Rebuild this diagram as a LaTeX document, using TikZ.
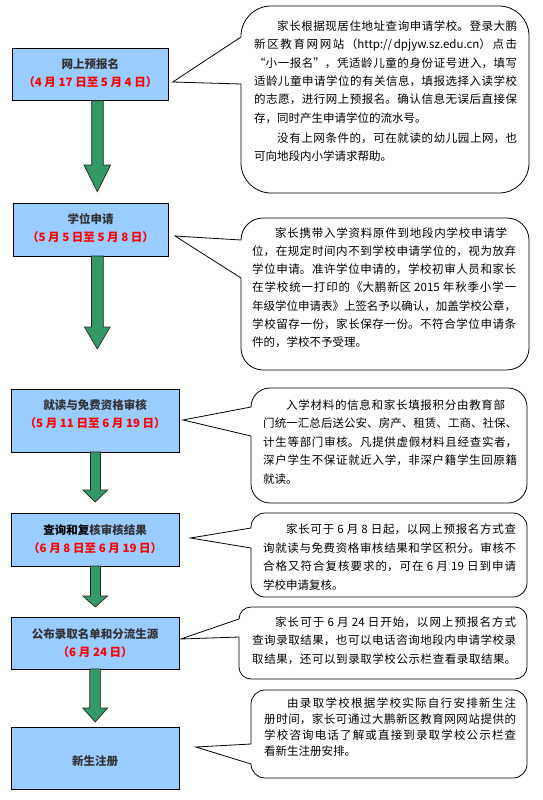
\documentclass[tikz,border=0pt]{standalone}
\usepackage{fontspec}
\setmainfont{Noto Sans CJK SC}
\XeTeXlinebreaklocale "zh"
\XeTeXlinebreakskip=0pt plus 2pt minus 0.5pt
\tolerance=10000
\hbadness=10000
\definecolor{boxblue}{HTML}{99CCFF}
\definecolor{arrowgreen}{HTML}{339966}
\definecolor{titlegray}{HTML}{333333}
\newcommand\bubblepath[9]{%
  \draw[bubble] (#1,#9) -- (#1,#4-#5) arc[start angle=180,end angle=90,radius=#5]
    -- (#3-#5,#4) arc[start angle=90,end angle=0,radius=#5]
    -- (#3,#2+#5) arc[start angle=0,end angle=-90,radius=#5]
    -- (#1+#5,#2) arc[start angle=270,end angle=180,radius=#5]
    -- (#1,#8) -- (#6,#7) -- cycle;}
\tikzset{
  stagebox/.style={draw=black, line width=0.9pt, fill=boxblue, inner sep=0pt},
  stagetitle/.style={anchor=base, inner sep=0pt, text=titlegray, font=\bfseries\fontsize{11.5}{14}\selectfont},
  stagedate/.style={anchor=base, inner sep=0pt, text=red, font=\bfseries\fontsize{11.5}{14}\selectfont},
  garrow/.style={draw=black!85, line width=0.7pt, fill=arrowgreen, line join=miter},
  bubble/.style={draw=black, line width=0.8pt, fill=white, line join=miter},
  bubbletext/.style={anchor=base west, inner sep=0pt, text=black},
}
\begin{document}
\begin{tikzpicture}[x=1pt,y=-1pt]
\useasboundingbox (0,0) rectangle (542,800);

% stage boxes
\node[stagebox, minimum width=155.3pt, minimum height=52.7pt] (b1) at (90.35,74.35) {};
\node[stagebox, minimum width=155pt, minimum height=53pt] (b2) at (90.5,229.5) {};
\node[stagebox, minimum width=167.6pt, minimum height=63pt] (b3) at (95.2,420.5) {};
\node[stagebox, minimum width=167.6pt, minimum height=53pt] (b4) at (95.2,539.5) {};
\node[stagebox, minimum width=167.6pt, minimum height=52pt] (b5) at (95.2,643) {};
\node[stagebox, minimum width=167.6pt, minimum height=62pt] (b6) at (95.2,758) {};

\node[stagetitle] (t1) at (90.35,68.3) {网上预报名};
\node[stagedate]  (d1) at (90.35,86.6) {（4 月 17 日至 5 月 4 日）};
\node[stagetitle] (t2) at (90.5,223.3) {学位申请};
\node[stagedate]  (d2) at (90.5,241.3) {（5 月 5 日至 5 月 8 日）};
\node[stagetitle] (t3) at (95.2,409.3) {就读与免费资格审核};
\node[stagedate]  (d3) at (95.2,427.3) {（5 月 11 日至 6 月 19 日）};
\node[stagetitle] (t4) at (95.2,534.3) {{\color{black}查询和复}核审核结果};
\node[stagedate]  (d4) at (95.2,552.3) {（6 月 8 日至 6 月 19 日）};
\node[stagetitle] (t5) at (95.2,638.3) {公布录取名单和分流生源};
\node[stagedate]  (d5) at (95.2,656.3) {（6 月 24 日）};
\node[stagetitle] (t6) at (95.2,765.3) {新生注册};

% block arrows
\draw[garrow] (91.7,100.7) -- (91.7,165) -- (84,165) -- (97.3,191.7) -- (110.6,165) -- (103.3,165) -- (103.3,100.7) -- cycle;
\draw[garrow] (91.5,256) -- (91.5,327) -- (84.5,327) -- (97.3,349) -- (110.1,327) -- (103.3,327) -- (103.3,256) -- cycle;
\draw[garrow] (90.4,452) -- (90.4,490) -- (82.8,490) -- (95.2,502) -- (107.6,490) -- (100.4,490) -- (100.4,452) -- cycle;
\draw[garrow] (90.4,566) -- (90.4,596) -- (82.8,596) -- (95.2,607) -- (107.6,596) -- (100.4,596) -- (100.4,566) -- cycle;
\draw[garrow] (89.8,669) -- (89.8,708) -- (82.8,708) -- (95.2,722) -- (107.6,708) -- (100.6,708) -- (100.6,669) -- cycle;

% callouts
\bubblepath{241}{6}{529}{193}{30}{172.7}{82}{37}{84}
\bubblepath{241}{218}{529}{370}{22}{175}{236}{240}{278}
\bubblepath{251}{388}{527}{503}{19}{183}{420}{407}{436}
\bubblepath{251}{513}{527}{597}{14}{190.5}{538}{528}{548}
\bubblepath{239}{607}{527}{679}{12}{180.7}{639}{619}{637}
\bubblepath{251}{690}{527}{778}{14}{196}{747}{744}{764}

\node[bubbletext] (c1) at (254,30.4) {\parbox[t]{263pt}{\fontsize{11.5}{18.4}\selectfont
\hspace*{2em}家长根据现居住地址查询申请学校。登录大鹏\linebreak 新区教育网网站（http://dpjyw.sz.edu.cn）点击\linebreak “小一报名”，凭适龄儿童的身份证号进入，填写\linebreak 适龄儿童申请学位的有关信息，填报选择入读学校\linebreak 的志愿，进行网上预报名。确认信息无误后直接保\linebreak 存，同时产生申请学位的流水号。\par\vspace{1.6pt}%
\hspace*{2em}没有上网条件的，可在就读的幼儿园上网，也\linebreak 可向地段内小学请求帮助。}};

\node[bubbletext] (c2) at (252,237.4) {\parbox[t]{264pt}{\fontsize{11.5}{18.17}\selectfont
\hspace*{2em}家长携带入学资料原件到地段内学校申请学\hspace*{9pt}\linebreak 位，在规定时间内不到学校申请学位的，视为放弃\linebreak 学位申请。准许学位申请的，学校初审人员和家长\linebreak 在学校统一打印的《大鹏新区 2015 年秋季小学一\linebreak 年级学位申请表》上签名予以确认，加盖学校公章，\linebreak 学校留存一份，家长保存一份。不符合学位申请条\linebreak 件的，学校不予受理。}};

\node[bubbletext] (c3) at (263,409.4) {\parbox[t]{254pt}{\fontsize{11.5}{18.5}\selectfont
\hspace*{2em}入学材料的信息和家长填报积分由教育部\hspace*{12pt}\linebreak 门统一汇总后送公安、房产、租赁、工商、社保、\linebreak 计生等部门审核。凡提供虚假材料且经查实者，\linebreak 深户学生不保证就近入学，非深户籍学生回原籍\linebreak 就读。}};

\node[bubbletext] (c4) at (263,533.4) {\parbox[t]{253pt}{\fontsize{11.5}{18.7}\selectfont
\hspace*{2em}家长可于 6 月 8 日起，以网上预报名方式查\linebreak 询就读与免费资格审核结果和学区积分。审核不\linebreak 合格又符合复核要求的，可在 6 月 19 日到申请\linebreak 学校申请复核。}};

\node[bubbletext] (c5) at (252,626.4) {\parbox[t]{264pt}{\fontsize{11.5}{18.5}\selectfont\parfillskip=0pt
\hspace*{2em}家长可于 6 月 24 日开始，以网上预报名方式\linebreak 查询录取结果，也可以电话咨询地段内申请学校录\linebreak 取结果，还可以到录取学校公示栏查看录取结果。}};

\node[bubbletext] (c6) at (264,707.4) {\parbox[t]{252pt}{\fontsize{11.5}{16}\selectfont
\hspace*{2em}由录取学校根据学校实际自行安排新生注\linebreak 册时间，家长可通过大鹏新区教育网网站提供的\linebreak 学校咨询电话了解或直接到录取学校公示栏查\linebreak 看新生注册安排。}};
\end{tikzpicture}
\end{document}
